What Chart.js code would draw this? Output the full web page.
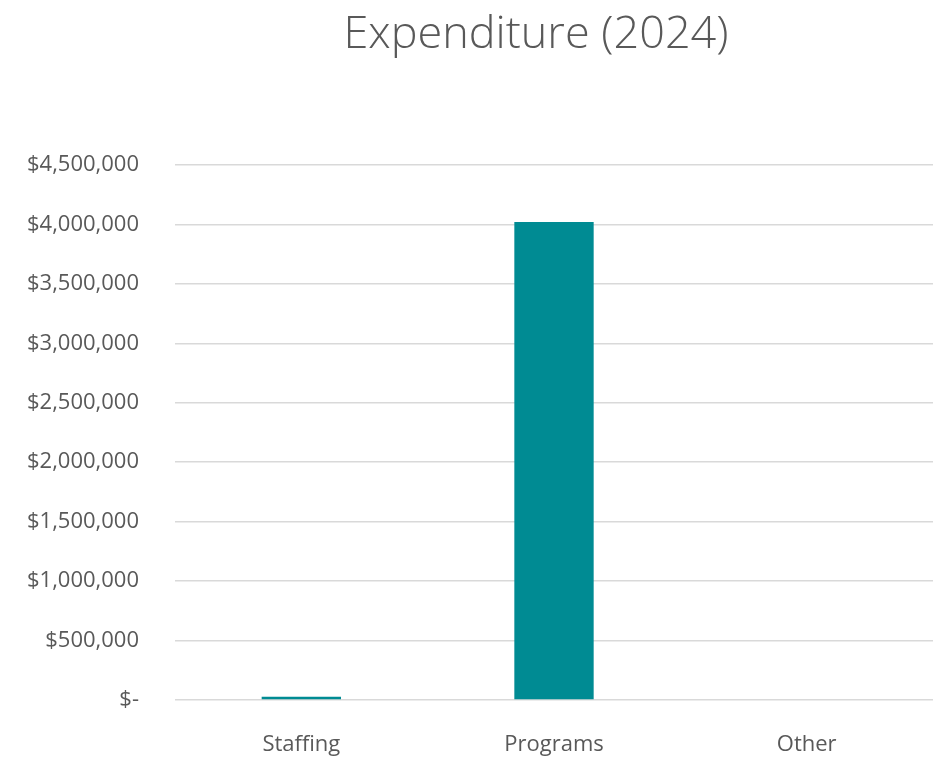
<!DOCTYPE html>
<html>
<head>
<meta charset="utf-8">
<script src="https://cdn.jsdelivr.net/npm/chart.js@4.4.1/dist/chart.umd.min.js"></script>
<style>
  html, body { margin: 0; padding: 0; background: #ffffff; }
  #wrap { width: 941px; height: 759px; position: relative; }
</style>
</head>
<body>
<div id="wrap"><canvas id="myChart"></canvas></div>
<script>
// Chart data
const categories = ["Staffing", "Programs", "Other"];
const expenditure = [28000, 4020000, 0];
const tickValues = [0, 500000, 1000000, 1500000, 2000000, 2500000, 3000000, 3500000, 4000000, 4500000];

const textColor = "#595959";
const fontFamily = "'Open Sans', 'Noto Sans', sans-serif";

// Formats the y axis values like the accounting style
function money(value) {
    if (value === 0) return "$-";
    return "$" + value.toLocaleString("en-US");
}

// The title sits a little left of the plot centre
const titleShift = {
    id: "titleShift",
    afterLayout(chart) {
        if (chart.titleBlock) chart.titleBlock.left -= 36;
    }
};

const ctx = document.querySelector("#myChart");

let expenditureChart = new Chart(ctx, {
    type: "bar",
    data: {
        labels: categories,
        datasets: [
            {
                label: "Expenditure",
                data: expenditure,
                backgroundColor: "#008B93",
                barPercentage: 0.314,
                categoryPercentage: 1,
            },
        ]
    },
    plugins: [titleShift],
    options: {
        responsive: true,
        maintainAspectRatio: false,
        animation: false,
        layout: { padding: { left: 0, right: 8, top: 0, bottom: 0 } },
        plugins: {
            legend: { display: false },
            tooltip: { enabled: false },
            title: {
                display: true,
                text: "Expenditure (2024)",
                color: textColor,
                fullSize: false,
                font: { family: fontFamily, size: 45, weight: "300" },
                padding: { top: 8, bottom: 103 },
            },
        },
        scales: {
            x: {
                border: { display: false },
                grid: { display: false },
                afterFit: axis => { axis.height = 59; },
                ticks: {
                    color: textColor,
                    padding: 24,
                    font: { family: fontFamily, size: 22 },
                },
            },
            y: {
                min: 0,
                max: 4500000,
                border: { display: false },
                afterBuildTicks: axis => {
                    axis.ticks = tickValues.map(v => ({ value: v }));
                },
                afterFit: axis => { axis.width = 175; },
                grid: { color: "#d9d9d9", lineWidth: 1.5, drawTicks: false },
                ticks: {
                    color: textColor,
                    padding: 36,
                    font: { family: fontFamily, size: 22 },
                    callback: value => money(value),
                },
            },
        },
    },
});
</script>
</body>
</html>
